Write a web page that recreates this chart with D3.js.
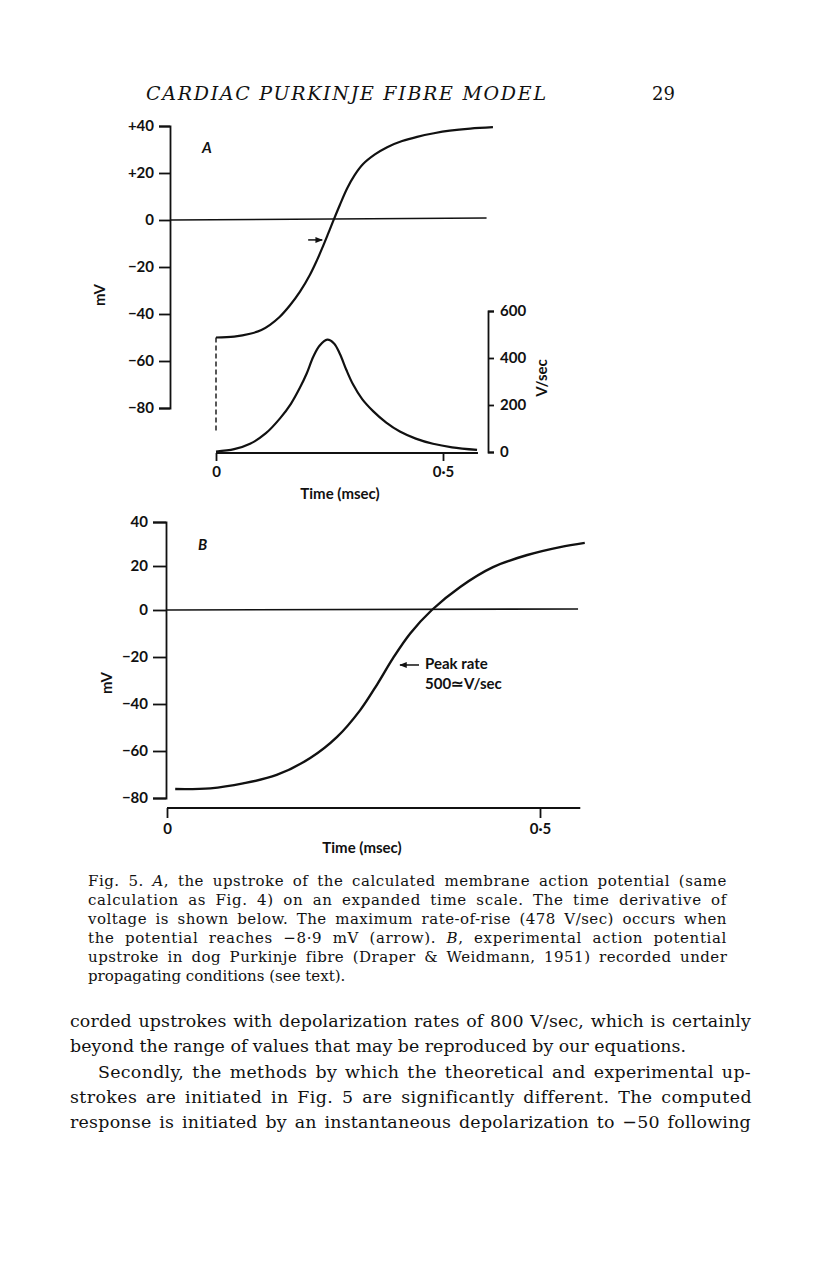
<!DOCTYPE html>
<html lang="en">
<head>
<meta charset="UTF-8">
<script src="https://d3js.org/d3.v7.min.js"></script>
<title>Fig. 5</title>
<style>
body {margin: 0; background: #fff;}
svg text {fill: #111;}
.lbl {font-family: Lato, "Open Sans", sans-serif; font-weight: 700; font-size: 15px;}
.serif {font-family: "DejaVu Serif", serif;}
</style>
</head>
<body>
<svg id="page"></svg>
<script>

// ---- panel A: computed upstroke (ms, mV) ----
var timeA = [0, 0.04, 0.075, 0.1, 0.119, 0.14, 0.163, 0.185, 0.207, 0.222, 0.236, 0.247, 0.258,
             0.273, 0.289, 0.305, 0.324, 0.35, 0.377, 0.41, 0.443, 0.48, 0.515, 0.56, 0.61];
var vmA = [-50, -49.6, -48.4, -46.8, -44.6, -41.3, -36.3, -30.5, -23.3, -17.3, -11, -5.8, -0.5,
           6.5, 13.5, 19, 23.8, 27.9, 31, 33.6, 35.4, 36.9, 38, 38.9, 39.5];

// ---- panel A: time derivative (ms, V/sec) ----
var timeDV = [0, 0.04, 0.075, 0.11, 0.141, 0.165, 0.185, 0.2, 0.214, 0.228, 0.245, 0.26, 0.273,
              0.287, 0.302, 0.322, 0.346, 0.375, 0.405, 0.44, 0.478, 0.52, 0.575];
var dvdt = [2, 12, 35, 80, 143, 205, 274, 335, 404, 452, 478, 462, 417,
            350, 287, 225, 174, 125, 87, 57, 35, 20, 9];

// ---- panel B: experimental upstroke (ms, mV) ----
var timeB = [0.011, 0.058, 0.102, 0.147, 0.192, 0.228, 0.259, 0.282, 0.303, 0.326, 0.355,
             0.393, 0.437, 0.483, 0.527, 0.56];
var vmB = [-76.2, -75.9, -73.8, -70.2, -63, -54, -42.6, -31.5, -20.5, -10, 0,
           10.5, 19.5, 25, 28.6, 30.5];

var mvTicks = [-80, -60, -40, -20, 0, 20, 40];
var dvTicks = [0, 200, 400, 600];
var timeTicks = [0, 0.5];
var peakMvA = -8.9;

var W = 816, H = 1281;
var svg = d3.select('#page').attr('width', W).attr('height', H);

var minus = function(d) { return d < 0 ? '\u2212' + (-d) : '' + d; };
var timeFmt = function(d) { return d === 0 ? '0' : '0\u00b75'; };

function styleAxis(g) {
    g.selectAll('path, line').attr('stroke', '#111').attr('stroke-width', 1.8);
    g.selectAll('text').attr('class', 'lbl').attr('font-size', null).attr('font-family', null);
    g.attr('font-size', null).attr('font-family', null);
}

// fill the measure: half of the slack between letters, half in the word gaps
function justify(t, width) {
    var s = t.text();
    var gaps = s.split(' ').length - 1;
    var extra = width - t.node().getComputedTextLength();
    if (gaps > 0) {
        t.attr('letter-spacing', extra * 0.5 / s.length)
         .attr('word-spacing', extra * 0.5 / gaps);
    }
}

// arrow head
svg.append('defs').append('marker')
    .attr('id', 'head').attr('viewBox', '0 0 10 10').attr('refX', 9).attr('refY', 5)
    .attr('markerWidth', 5).attr('markerHeight', 5).attr('orient', 'auto-start-reverse')
    .append('path').attr('d', 'M0,1 L10,5 L0,9 z').attr('fill', '#111');

// ================= header =================
svg.append('text').attr('class', 'serif')
    .attr('x', 146).attr('y', 100)
    .attr('font-size', 19).attr('font-style', 'italic')
    .attr('textLength', 400).attr('lengthAdjust', 'spacing')
    .text('CARDIAC PURKINJE FIBRE MODEL');
svg.append('text').attr('class', 'serif')
    .attr('x', 652).attr('y', 100).attr('font-size', 18)
    .text('29');

// ================= panel A =================
var xA = d3.scaleLinear().domain([0, 0.5]).range([216, 443]);
var yA = d3.scaleLinear().domain([-80, 40]).range([408, 126]);
var yDV = d3.scaleLinear().domain([0, 600]).range([452, 311]);

svg.append('g').attr('transform', 'translate(170,0)')
    .call(d3.axisLeft(yA).tickValues(mvTicks).tickSize(11).tickSizeOuter(11).tickPadding(5)
        .tickFormat(function(d) { return d > 0 ? '+' + d : minus(d); }))
    .call(styleAxis);

// zero line
svg.append('line')
    .attr('x1', 170).attr('x2', xA(0.596))
    .attr('y1', yA(0)).attr('y2', yA(0) - 2)
    .attr('stroke', '#111').attr('stroke-width', 1.6);

// dashed step at t = 0
svg.append('line')
    .attr('x1', xA(0)).attr('x2', xA(0))
    .attr('y1', yA(vmA[0])).attr('y2', yA(-90))
    .attr('stroke', '#111').attr('stroke-width', 1.4).attr('stroke-dasharray', '5,3');

var smooth = d3.curveCatmullRom.alpha(0.5);

var lineA = d3.line().x(function(d) { return xA(d[0]); }).y(function(d) { return yA(d[1]); })
    .curve(smooth);
svg.append('path').datum(d3.zip(timeA, vmA)).attr('d', lineA)
    .attr('fill', 'none').attr('stroke', '#111').attr('stroke-width', 2.2);

var lineDV = d3.line().x(function(d) { return xA(d[0]); }).y(function(d) { return yDV(d[1]); })
    .curve(smooth);
svg.append('path').datum(d3.zip(timeDV, dvdt)).attr('d', lineDV)
    .attr('fill', 'none').attr('stroke', '#111').attr('stroke-width', 2.2);

// arrow at peak rate
var tPeak = d3.scaleLinear().domain(vmA).range(timeA)(peakMvA);
svg.append('line')
    .attr('x1', xA(tPeak) - 17).attr('x2', xA(tPeak) - 3)
    .attr('y1', yA(peakMvA) - 1).attr('y2', yA(peakMvA) - 1)
    .attr('stroke', '#111').attr('stroke-width', 1.5).attr('marker-end', 'url(#head)');

// time axis
var gxA = svg.append('g').attr('transform', 'translate(0,' + (yDV(0) + 1) + ')')
    .call(d3.axisBottom(xA).tickValues(timeTicks).tickSize(8).tickSizeOuter(0).tickPadding(5)
        .tickFormat(timeFmt))
    .call(styleAxis);
gxA.select('.domain').remove();
gxA.append('line').attr('x1', xA(0)).attr('x2', xA(0.577))
    .attr('stroke', '#111').attr('stroke-width', 1.8);

// right axis V/sec
svg.append('g').attr('transform', 'translate(488,0)')
    .call(d3.axisRight(yDV).tickValues(dvTicks).tickSize(6).tickSizeOuter(6).tickPadding(6))
    .call(styleAxis);

svg.append('text').attr('class', 'lbl')
    .attr('transform', 'translate(547,378) rotate(-90)').attr('text-anchor', 'middle')
    .text('V/sec');
svg.append('text').attr('class', 'lbl')
    .attr('transform', 'translate(105,295) rotate(-90)').attr('text-anchor', 'middle')
    .text('mV');
svg.append('text').attr('class', 'lbl')
    .attr('x', 340).attr('y', 499).attr('text-anchor', 'middle')
    .text('Time (msec)');
svg.append('text').attr('class', 'lbl')
    .attr('x', 202).attr('y', 153).attr('font-style', 'italic').attr('font-size', 13)
    .text('A');

// ================= panel B =================
var xB = d3.scaleLinear().domain([0, 0.5]).range([167, 540]);
var yB = d3.scaleLinear().domain([-80, 0, 40]).range([798, 610, 522]);

svg.append('g').attr('transform', 'translate(166,0)')
    .call(d3.axisLeft(yB).tickValues(mvTicks).tickSize(13).tickSizeOuter(13).tickPadding(5)
        .tickFormat(minus))
    .call(styleAxis);

svg.append('line')
    .attr('x1', 166).attr('x2', xB(0.551))
    .attr('y1', yB(0)).attr('y2', yB(0) - 1)
    .attr('stroke', '#111').attr('stroke-width', 1.6);

var lineB = d3.line().x(function(d) { return xB(d[0]); }).y(function(d) { return yB(d[1]); })
    .curve(smooth);
svg.append('path').datum(d3.zip(timeB, vmB)).attr('d', lineB)
    .attr('fill', 'none').attr('stroke', '#111').attr('stroke-width', 2.4);

var gxB = svg.append('g').attr('transform', 'translate(0,808)')
    .call(d3.axisBottom(xB).tickValues(timeTicks).tickSize(10).tickSizeOuter(0).tickPadding(5)
        .tickFormat(timeFmt))
    .call(styleAxis);
gxB.select('.domain').remove();
gxB.append('line').attr('x1', xB(0)).attr('x2', xB(0.554))
    .attr('stroke', '#111').attr('stroke-width', 1.8);

// peak rate note
var yNote = yB(-23.4);
svg.append('line')
    .attr('x1', 419).attr('x2', 400).attr('y1', yNote).attr('y2', yNote)
    .attr('stroke', '#111').attr('stroke-width', 1.5).attr('marker-end', 'url(#head)');
svg.append('text').attr('class', 'lbl').attr('x', 425).attr('y', 669).attr('font-size', 14.5)
    .text('Peak rate');
svg.append('text').attr('class', 'lbl').attr('x', 425).attr('y', 689).attr('font-size', 14.5)
    .text('500\u2243V/sec');

svg.append('text').attr('class', 'lbl')
    .attr('transform', 'translate(112,683) rotate(-90)').attr('text-anchor', 'middle')
    .text('mV');
svg.append('text').attr('class', 'lbl')
    .attr('x', 362).attr('y', 853).attr('text-anchor', 'middle')
    .text('Time (msec)');
svg.append('text').attr('class', 'lbl')
    .attr('x', 198).attr('y', 550).attr('font-style', 'italic').attr('font-size', 13)
    .text('B');

// ================= caption =================
var caption = [
    ['Fig. 5. ', ['A'], ', the upstroke of the calculated membrane action potential (same'],
    ['calculation as Fig. 4) on an expanded time scale. The time derivative of'],
    ['voltage is shown below. The maximum rate-of-rise (478 V/sec) occurs when'],
    ['the potential reaches \u22128\u00b79 mV (arrow). ', ['B'], ', experimental action potential'],
    ['upstroke in dog Purkinje fibre (Draper & Weidmann, 1951) recorded under'],
    ['propagating conditions (see text).']
];
caption.forEach(function(parts, i) {
    var t = svg.append('text').attr('class', 'serif')
        .attr('x', 88).attr('y', 886 + i * 19).attr('font-size', 15);
    parts.forEach(function(p) {
        var s = t.append('tspan');
        if (Array.isArray(p)) s.attr('font-style', 'italic').text(p[0]);
        else s.text(p);
    });
    if (i < caption.length - 1) justify(t, 727 - 88);
});

// ================= body text =================
var body = [
    {x: 70, s: 'corded upstrokes with depolarization rates of 800 V/sec, which is certainly', j: true},
    {x: 70, s: 'beyond the range of values that may be reproduced by our equations.', j: false},
    {x: 98, s: 'Secondly, the methods by which the theoretical and experimental up-', j: true},
    {x: 70, s: 'strokes are initiated in Fig. 5 are significantly different. The computed', j: true},
    {x: 70, s: 'response is initiated by an instantaneous depolarization to \u221250 following', j: true}
];
body.forEach(function(b, i) {
    var t = svg.append('text').attr('class', 'serif')
        .attr('x', b.x).attr('y', 1027 + i * 25.3).attr('font-size', 17.4)
        .text(b.s);
    if (b.j) justify(t, 751 - b.x);
});

</script>
</body>
</html>
